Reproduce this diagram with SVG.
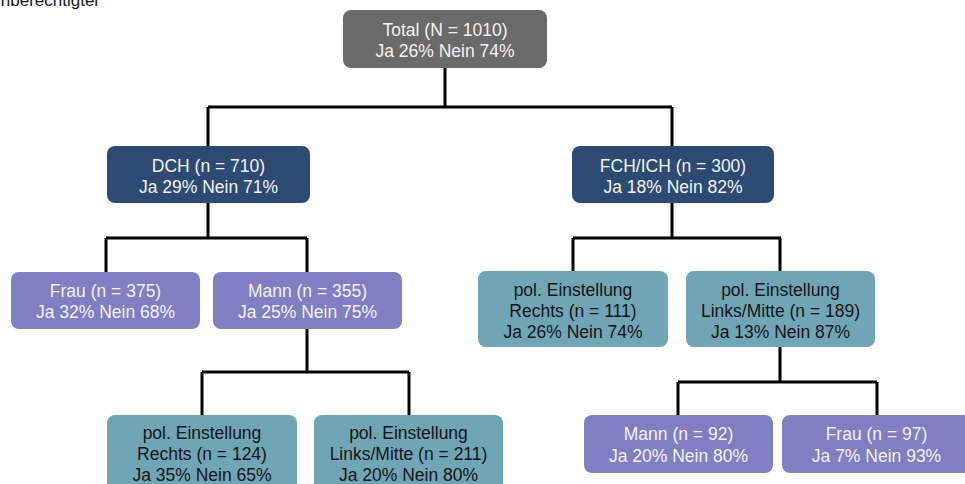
<svg xmlns="http://www.w3.org/2000/svg" width="965" height="484" viewBox="0 0 965 484">
<style>
text{font-family:"Liberation Sans",Arial,sans-serif;font-size:17.5px;text-anchor:middle}
.lt{fill:#f2f2f2}
.dk{fill:#151515}
.gray{fill:#6a6a6a}
.navy{fill:#2c4a72}
.purple{fill:#7f7fc1}
.teal{fill:#6fa5b5}
.conn{stroke:#000;stroke-width:3;fill:none}
</style>
<rect width="965" height="484" fill="#fff"/>
<text x="100" y="5.5" class="dk" style="text-anchor:end;font-size:17px">nberechtigter</text>
<g id="connectors" class="conn">
<path d="M445 68V107M208 107H672M208 107V146M672 107V146"/>
<path d="M208 203V238M106 238H307M106 238V272M307 238V272"/>
<path d="M672 203V238M573 238H781M573 238V271M780 238V271"/>
<path d="M307 329V372M202 372H409M202 372V415M409 372V415"/>
<path d="M780 347V382M678 382H877M678 382V415M877 382V415"/>
</g>
<g id="total"><rect x="343" y="10" width="204" height="58" rx="8" class="gray"/><text x="445" y="36" class="lt">Total (N = 1010)</text><text x="445" y="57" class="lt">Ja 26% Nein 74%</text></g>
<g id="dch"><rect x="107" y="146" width="203" height="57" rx="8" class="navy"/><text x="208.5" y="172" class="lt">DCH (n = 710)</text><text x="208.5" y="193" class="lt">Ja 29% Nein 71%</text></g>
<g id="fch"><rect x="572" y="146" width="202" height="57" rx="8" class="navy"/><text x="673" y="172" class="lt">FCH/ICH (n = 300)</text><text x="673" y="193" class="lt">Ja 18% Nein 82%</text></g>
<g id="frau375"><rect x="11" y="272" width="189" height="57" rx="8" class="purple"/><text x="105.5" y="297" class="lt">Frau (n = 375)</text><text x="105.5" y="318" class="lt">Ja 32% Nein 68%</text></g>
<g id="mann355"><rect x="213" y="272" width="189" height="57" rx="8" class="purple"/><text x="307.5" y="297" class="lt">Mann (n = 355)</text><text x="307.5" y="318" class="lt">Ja 25% Nein 75%</text></g>
<g id="rechts111"><rect x="478" y="271" width="190" height="76" rx="8" class="teal"/><text x="573" y="296" class="dk">pol. Einstellung</text><text x="573" y="317" class="dk">Rechts (n = 111)</text><text x="573" y="338" class="dk">Ja 26% Nein 74%</text></g>
<g id="links189"><rect x="686" y="271" width="189" height="76" rx="8" class="teal"/><text x="780.5" y="296" class="dk">pol. Einstellung</text><text x="780.5" y="317" class="dk">Links/Mitte (n = 189)</text><text x="780.5" y="338" class="dk">Ja 13% Nein 87%</text></g>
<g id="rechts124"><rect x="107" y="415" width="190" height="80" rx="8" class="teal"/><text x="202" y="439" class="dk">pol. Einstellung</text><text x="202" y="460" class="dk">Rechts (n = 124)</text><text x="202" y="481" class="dk">Ja 35% Nein 65%</text></g>
<g id="links211"><rect x="314" y="415" width="189" height="80" rx="8" class="teal"/><text x="408.5" y="439" class="dk">pol. Einstellung</text><text x="408.5" y="460" class="dk">Links/Mitte (n = 211)</text><text x="408.5" y="481" class="dk">Ja 20% Nein 80%</text></g>
<g id="mann92"><rect x="584" y="415" width="189" height="58" rx="8" class="purple"/><text x="678.5" y="440" class="lt">Mann (n = 92)</text><text x="678.5" y="462" class="lt">Ja 20% Nein 80%</text></g>
<g id="frau97"><rect x="782" y="415" width="189" height="58" rx="8" class="purple"/><text x="876.5" y="440" class="lt">Frau (n = 97)</text><text x="876.5" y="462" class="lt">Ja 7% Nein 93%</text></g>
</svg>
